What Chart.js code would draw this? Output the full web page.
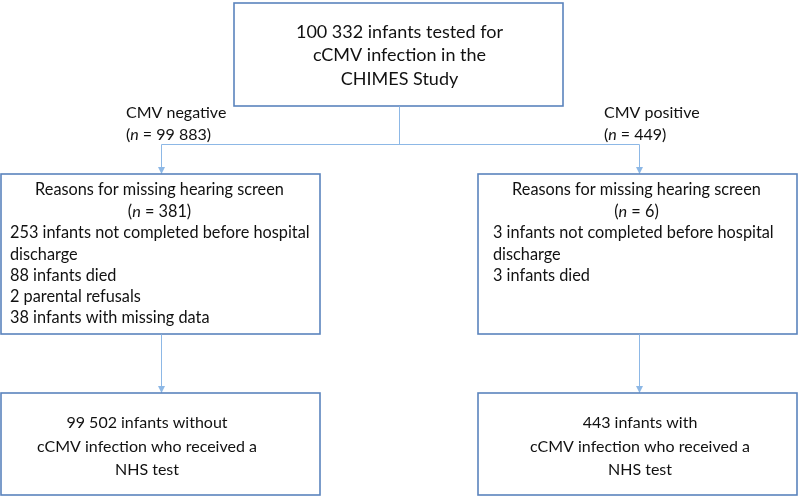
<!DOCTYPE html>
<html>
<head>
<meta charset="utf-8">
<script src="https://cdn.jsdelivr.net/npm/chart.js@4.4.0/dist/chart.umd.min.js"></script>
<style>
  html, body { margin: 0; padding: 0; background: #fff; }
  #wrap { width: 800px; height: 497px; }
</style>
</head>
<body>
<div id="wrap"><canvas id="flow" width="800" height="497"></canvas></div>
<script>
// texts of the flow diagram
var topLines = ['100 332 infants tested for', 'cCMV infection in the', 'CHIMES Study'];
var branchLabels = ['CMV negative', 'CMV positive'];
var branchN = ['99 883', '449'];
var missingTitle = 'Reasons for missing hearing screen';
var missingN = ['381', '6'];
var missingReasons = [
  ['253 infants not completed before hospital', 'discharge', '88 infants died', '2 parental refusals', '38 infants with missing data'],
  ['3 infants not completed before hospital', 'discharge', '3 infants died']
];
var outcomeLines = [
  ['99 502 infants without', 'cCMV infection who received a', 'NHS test'],
  ['443 infants with', 'cCMV infection who received a', 'NHS test']
];

// layout in diagram units (0..800 x 0..497)
var topBox = [234, 3, 563, 106];
var midBoxes = [[1, 174, 320, 334], [478, 174, 797, 334]];
var lowBoxes = [[1, 393, 320, 495], [478, 393, 797, 495]];
var branchX = [161, 639];
var splitY = 144;

var BOX_COLOR = '#5b84bd';
var LINK_COLOR = '#8db8e6';

var flowPlugin = {
  id: 'flow',
  afterDraw: function(chart) {
    var ctx = chart.ctx;
    var sx = chart.scales.x, sy = chart.scales.y;
    var px = function(v) { return sx.getPixelForValue(v); };
    var py = function(v) { return sy.getPixelForValue(v); };

    function box(b) {
      ctx.save();
      ctx.strokeStyle = BOX_COLOR;
      ctx.lineWidth = 1.6;
      ctx.strokeRect(px(b[0]), py(b[1]), px(b[2]) - px(b[0]), py(b[3]) - py(b[1]));
      ctx.restore();
    }
    function line(x1, y1, x2, y2) {
      ctx.save();
      ctx.strokeStyle = LINK_COLOR;
      ctx.lineWidth = 1;
      ctx.beginPath();
      ctx.moveTo(Math.round(px(x1)) + 0.5, Math.round(py(y1)) + 0.5);
      ctx.lineTo(Math.round(px(x2)) + 0.5, Math.round(py(y2)) + 0.5);
      ctx.stroke();
      ctx.restore();
    }
    function arrow(x, y1, y2) {
      line(x, y1, x, y2 - 1);
      var cx = Math.round(px(x)) + 0.5, ty = py(y2);
      ctx.save();
      ctx.fillStyle = LINK_COLOR;
      ctx.beginPath();
      ctx.moveTo(cx - 3.5, ty - 7);
      ctx.lineTo(cx + 3.5, ty - 7);
      ctx.lineTo(cx, ty);
      ctx.closePath();
      ctx.fill();
      ctx.restore();
    }
    // runs: [[text, italic?], ...]
    function runs(parts, x, y, align, size) {
      var font = size + 'px Lato';
      ctx.save();
      ctx.fillStyle = '#111';
      ctx.textBaseline = 'middle';
      ctx.textAlign = 'left';
      var w = 0;
      parts.forEach(function(p) {
        ctx.font = (p[1] ? 'italic ' : '') + font;
        w += ctx.measureText(p[0]).width;
      });
      var cx = px(x);
      if (align === 'center') cx -= w / 2;
      parts.forEach(function(p) {
        ctx.font = (p[1] ? 'italic ' : '') + font;
        ctx.fillText(p[0], cx, py(y));
        cx += ctx.measureText(p[0]).width;
      });
      ctx.restore();
    }
    function nParts(n) { return [['(', false], ['n', true], [' = ' + n + ')', false]]; }

    // top box
    box(topBox);
    var topCx = (topBox[0] + topBox[2]) / 2 + 1;
    topLines.forEach(function(t, i) { runs([[t, false]], topCx, 32 + i * 23.5, 'center', 18); });

    // connectors
    line(399, topBox[3], 399, splitY);
    line(branchX[0], splitY, branchX[1], splitY);
    var labelX = [126, 604];
    for (var k = 0; k < 2; k++) {
      arrow(branchX[k], splitY, midBoxes[k][1]);
      runs([[branchLabels[k], false]], labelX[k], 113, 'left', 16);
      runs(nParts(branchN[k]), labelX[k], 135, 'left', 16);

      var mb = midBoxes[k];
      box(mb);
      var mcx = (mb[0] + mb[2]) / 2 - 1;
      runs([[missingTitle, false]], mcx, 190, 'center', 16.3);
      runs(nParts(missingN[k]), mcx, 212, 'center', 16.3);
      var tx = mb[0] + (k === 0 ? 9 : 15);
      missingReasons[k].forEach(function(t, i) { runs([[t, false]], tx, 233 + i * 21.3, 'left', 16.3); });

      arrow(branchX[k], mb[3], lowBoxes[k][1]);
      var lb = lowBoxes[k];
      box(lb);
      var lcx = k === 0 ? 147 : 640;
      outcomeLines[k].forEach(function(t, i) { runs([[t, false]], lcx, 423 + i * 23.5, 'center', 16); });
    }
  }
};

var chart = new Chart(document.getElementById('flow'), {
  type: 'scatter',
  data: { datasets: [] },
  options: {
    responsive: false,
    animation: false,
    layout: { padding: 0 },
    plugins: { legend: { display: false }, tooltip: { enabled: false } },
    scales: {
      x: { type: 'linear', min: 0, max: 800, display: false },
      y: { type: 'linear', min: 0, max: 497, reverse: true, display: false }
    }
  },
  plugins: [flowPlugin]
});
</script>
</body>
</html>
